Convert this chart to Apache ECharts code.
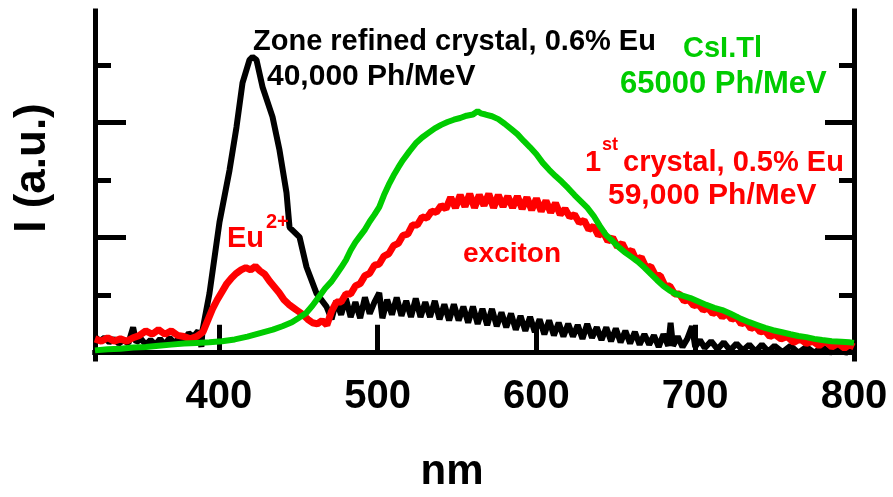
<!DOCTYPE html>
<html>
<head>
<meta charset="utf-8">
<title>Emission spectra</title>
<script src="https://cdn.jsdelivr.net/npm/echarts@6.0.0/dist/echarts.min.js"></script>
<style>
  html, body { margin: 0; padding: 0; background: #fff; }
  #chart { width: 893px; height: 497px; }
</style>
</head>
<body>
<div id="chart"></div>
<script>
// x ticks (nm) and y ticks (a.u.)
var xTicks = [400, 500, 600, 700, 800]
var yShortTicks = [1, 3, 5]
var yLongTicks = [2, 4]

// zone refined crystal, 0.6% Eu (black)
var blackNm = [
  322, 325, 328, 331, 334, 337, 340, 343, 346, 348, 351, 354, 357, 360, 363, 366, 369, 372, 375, 378,
  381, 384, 387, 389, 389.7, 394.1, 400.4, 406.7, 411.1, 414.9, 419.3, 421.2, 423.7, 427.5, 433.8, 438.2, 442.6,
  444.5, 450.8, 455.2, 461.5, 467.8,
  471, 474, 477, 480, 483, 486, 489, 492, 495, 498, 501,
  503,
  506, 509, 512, 515, 518, 521, 524, 527, 530, 533,
  536, 539, 542, 545, 548, 551, 554, 557, 560, 563,
  566, 569, 572, 575, 578, 581, 584, 587, 590, 593,
  596, 599, 602, 605, 608, 611, 614, 617, 620, 623,
  626, 629, 632, 635, 638, 641, 644, 647, 650, 653,
  656, 659, 662, 665, 668, 671, 674, 677, 680, 683,
  684.5, 686, 689, 692, 695, 698, 700, 703, 706,
  710, 714, 718, 722, 726, 730, 734, 738, 742, 746, 750,
  755, 760, 765, 770, 775, 780, 785, 790, 795, 800]
var blackI = [
  0.28, 0.20, 0.26, 0.18, 0.24, 0.16, 0.22, 0.16, 0.44, 0.18, 0.24, 0.14, 0.22, 0.14, 0.24, 0.14, 0.26, 0.16, 0.26, 0.20,
  0.34, 0.28, 0.38, 0.10, 0.39, 1.03, 2.27, 3.17, 3.92, 4.69, 5.09, 5.14, 5.09, 4.62, 4.10, 3.52, 2.78,
  2.18, 2.01, 1.49, 1.03, 0.80,
  0.58, 0.90, 0.66, 0.94, 0.62, 0.88, 0.60, 0.96, 0.68, 0.88, 1.04,
  0.60,
  0.92, 0.66, 0.96, 0.64, 0.90, 0.62, 0.94, 0.62, 0.88, 0.62,
  0.90, 0.58, 0.84, 0.56, 0.84, 0.56, 0.80, 0.52, 0.80, 0.50,
  0.76, 0.48, 0.76, 0.46, 0.70, 0.44, 0.68, 0.40, 0.64, 0.38,
  0.62, 0.36, 0.58, 0.32, 0.56, 0.30, 0.52, 0.28, 0.50, 0.28,
  0.48, 0.24, 0.50, 0.26, 0.44, 0.22, 0.44, 0.20, 0.42, 0.18,
  0.38, 0.16, 0.36, 0.14, 0.32, 0.14, 0.30, 0.10, 0.32, 0.12,
  0.52, 0.12, 0.28, 0.10, 0.24, 0.46, 0.10, 0.22, 0.08,
  0.20, 0.06, 0.18, 0.04, 0.16, 0.04, 0.14, 0.02, 0.14, 0.02, 0.12,
  0.01, 0.12, 0.00, 0.10, 0.00, 0.10, 0.00, 0.08, 0.00, 0.06]

// 1st crystal, 0.5% Eu (red)
var redNm = [
  322, 326, 330, 334, 338, 342, 346, 350, 354, 358, 362, 366, 370, 374, 378, 382, 386, 390, 393, 396,
  399, 402, 405, 408, 411, 414, 417, 420, 423, 426, 429, 432, 435, 438, 441, 444, 447, 450, 453, 456, 459, 462,
  465, 468,
  471, 474, 477, 480, 483, 486, 489, 492, 495, 498,
  501, 504, 507, 510, 513, 516, 519, 522, 525, 528,
  531, 534, 537, 540, 543, 546, 549, 552, 555, 558,
  561, 564, 567, 570, 573, 576, 579, 582, 585, 588,
  591, 594, 597, 600, 603, 606, 609, 612, 615, 618,
  621, 624, 627, 630, 633, 636, 639, 642, 645, 648,
  651, 654, 657, 660, 663, 666, 669, 672, 675, 678,
  681, 684, 687, 690, 693, 696, 699, 702, 705, 708,
  711, 714, 717, 720, 723, 726, 729, 732, 735, 738,
  741, 744, 747, 750,
  754, 758, 762, 766, 770, 774, 778, 782, 786, 790, 794,
  797, 800]
var redI = [
  0.24, 0.20, 0.26, 0.20, 0.24, 0.20, 0.26, 0.30, 0.38, 0.32, 0.40, 0.32, 0.38, 0.30, 0.28, 0.24, 0.28, 0.36, 0.56, 0.76,
  0.92, 1.06, 1.20, 1.30, 1.38, 1.44, 1.48, 1.44, 1.50, 1.42, 1.36, 1.24, 1.14, 1.04, 0.92, 0.84, 0.78, 0.72, 0.66, 0.58, 0.52, 0.50,
  0.56, 0.48,
  0.72, 0.88, 0.88, 1.02, 1.02, 1.16, 1.20, 1.34, 1.38, 1.52,
  1.54, 1.68, 1.72, 1.86, 1.90, 2.04, 2.06, 2.22, 2.22, 2.36,
  2.34, 2.46, 2.44, 2.56, 2.50, 2.70, 2.52, 2.74, 2.54, 2.76,
  2.52, 2.74, 2.56, 2.76, 2.52, 2.74, 2.54, 2.72, 2.52, 2.72,
  2.50, 2.70, 2.48, 2.68, 2.46, 2.64, 2.44, 2.60, 2.40, 2.50,
  2.36, 2.40, 2.26, 2.30, 2.14, 2.20, 2.04, 2.10, 1.94, 2.00,
  1.84, 1.90, 1.74, 1.78, 1.60, 1.66, 1.48, 1.50, 1.34, 1.34,
  1.16, 1.16, 1.02, 1.02, 0.90, 0.92, 0.82, 0.84, 0.74, 0.78,
  0.68, 0.72, 0.62, 0.68, 0.58, 0.62, 0.50, 0.54, 0.42, 0.46,
  0.36, 0.38, 0.28, 0.32,
  0.24, 0.28, 0.18, 0.24, 0.16, 0.20, 0.12, 0.20, 0.10, 0.16, 0.08,
  0.14, 0.10]

// CsI:Tl reference (green)
var greenNm = [322, 330, 338, 346, 354, 362, 370, 378, 386, 394, 402, 410, 418, 426, 434, 440, 446, 450, 455, 459,
  463, 467, 471, 474, 477, 480, 483, 486, 489, 492, 495, 498, 501, 504, 507, 510, 513, 516, 520, 524, 528, 532,
  536, 540, 544, 548, 552, 556, 560, 563, 565, 568, 572, 576, 580, 584, 588, 592, 596, 600, 604, 608, 612, 616,
  620, 624, 628, 632, 636, 640, 644, 648, 652, 656, 660, 664, 668, 672, 676, 680, 684, 688, 692, 697, 702, 707,
  712, 717, 722, 728, 734, 739, 744, 749, 754, 760, 765, 770, 775, 780, 786, 792, 797, 800]
var greenI = [0.04, 0.06, 0.07, 0.09, 0.10, 0.12, 0.14, 0.16, 0.17, 0.18, 0.20, 0.23, 0.28, 0.34, 0.40, 0.46, 0.53, 0.60, 0.69, 0.82,
  0.97, 1.12, 1.24, 1.36, 1.48, 1.61, 1.78, 1.92, 2.03, 2.14, 2.28, 2.40, 2.53, 2.74, 2.92, 3.08, 3.22, 3.35, 3.50, 3.64, 3.74, 3.82,
  3.90, 3.96, 4.01, 4.05, 4.08, 4.12, 4.14, 4.20, 4.16, 4.14, 4.11, 4.06, 3.98, 3.89, 3.80, 3.68, 3.57, 3.45, 3.30, 3.18, 3.07, 2.97,
  2.86, 2.74, 2.63, 2.52, 2.38, 2.20, 2.04, 1.94, 1.83, 1.74, 1.66, 1.58, 1.48, 1.37, 1.26, 1.16, 1.08, 1.02, 0.99, 0.95, 0.89, 0.83,
  0.78, 0.74, 0.68, 0.60, 0.53, 0.48, 0.43, 0.39, 0.36, 0.32, 0.29, 0.27, 0.24, 0.22, 0.20, 0.19, 0.18, 0.17]

function zip (xs, ys) {
  return xs.map(function (x, i) { return [x, ys[i]] })
}

var BOLD = '"Liberation Sans", Arial, sans-serif'
var yMin = -0.11
var yMax = 5.94

function frameY (position, ticks, len, showLine) {
  return {
    type: 'value',
    position: position,
    min: yMin,
    max: yMax,
    axisLine: { show: showLine, lineStyle: { color: '#000', width: 5, cap: 'square' } },
    axisTick: { show: true, inside: true, length: len, customValues: ticks, lineStyle: { color: '#000', width: 5 } },
    axisLabel: { show: false },
    splitLine: { show: false }
  }
}

function label (text, x, y, color, size) {
  return {
    type: 'text',
    x: x,
    y: y,
    z: 100,
    style: {
      text: text,
      fill: color,
      font: 'bold ' + size + 'px ' + BOLD,
      textAlign: 'left',
      textVerticalAlign: 'middle',
      align: 'left',
      verticalAlign: 'middle'
    }
  }
}

var chart = echarts.init(document.getElementById('chart'), null, { renderer: 'canvas' })
chart.setOption({
  animation: false,
  backgroundColor: '#fff',
  grid: { left: 95, right: 39, top: 11, bottom: 138 },
  xAxis: [
    {
      type: 'value',
      position: 'bottom',
      min: 322,
      max: 800,
      axisLine: { lineStyle: { color: '#000', width: 5, cap: 'square' } },
      axisTick: { inside: true, length: 28, customValues: xTicks.slice(0, 4), lineStyle: { color: '#000', width: 5 } },
      axisLabel: {
        customValues: xTicks,
        margin: 18,
        color: '#000',
        fontSize: 40,
        fontWeight: 'bold',
        fontFamily: BOLD
      },
      splitLine: { show: false }
    },
    {
      type: 'value',
      position: 'top',
      min: 322,
      max: 800,
      axisLine: { show: true, lineStyle: { color: '#000', width: 5, cap: 'square' } },
      axisTick: { show: false },
      axisLabel: { show: false },
      splitLine: { show: false }
    }
  ],
  yAxis: [
    frameY('left', yShortTicks, 16, true),
    frameY('left', yLongTicks, 31, false),
    frameY('right', yShortTicks, 15, true),
    frameY('right', yLongTicks, 29, false)
  ],
  series: [
    {
      name: 'Zone refined crystal, 0.6% Eu',
      type: 'line',
      data: zip(blackNm, blackI),
      showSymbol: false,
      lineStyle: { color: '#000', width: 6 },
      itemStyle: { color: '#000' }
    },
    {
      name: '1st crystal, 0.5% Eu',
      type: 'line',
      data: zip(redNm, redI),
      showSymbol: false,
      lineStyle: { color: '#ff0000', width: 7 },
      itemStyle: { color: '#ff0000' }
    },
    {
      name: 'CsI.Tl',
      type: 'line',
      data: zip(greenNm, greenI),
      showSymbol: false,
      lineStyle: { color: '#00cc00', width: 6 },
      itemStyle: { color: '#00cc00' }
    }
  ],
  graphic: [
    {
      type: 'text',
      x: 33,
      y: 168,
      rotation: Math.PI / 2,
      style: {
        text: 'I (a.u.)',
        fill: '#000',
        font: 'bold 44px ' + BOLD,
        textAlign: 'center',
        textVerticalAlign: 'middle',
        align: 'center',
        verticalAlign: 'middle'
      }
    },
    {
      type: 'text',
      x: 452,
      y: 472,
      style: {
        text: 'nm',
        fill: '#000',
        font: 'bold 42px ' + BOLD,
        textAlign: 'center',
        textVerticalAlign: 'middle',
        align: 'center',
        verticalAlign: 'middle'
      }
    },
    label('Zone refined crystal, 0.6% Eu', 253, 42, '#000', 29),
    label('40,000 Ph/MeV', 267, 77, '#000', 30),
    label('CsI.Tl', 683, 49, '#00cc00', 29),
    label('65000 Ph/MeV', 620, 84, '#00cc00', 31),
    label('1', 585, 163, '#ff0000', 29),
    label('st', 602, 145, '#ff0000', 18),
    label('crystal, 0.5% Eu', 623, 163, '#ff0000', 29),
    label('59,000 Ph/MeV', 608, 196, '#ff0000', 30),
    label('Eu', 227, 239, '#ff0000', 29),
    label('2+', 266, 222, '#ff0000', 20),
    label('exciton', 463, 254, '#ff0000', 28)
  ]
})
</script>
</body>
</html>
